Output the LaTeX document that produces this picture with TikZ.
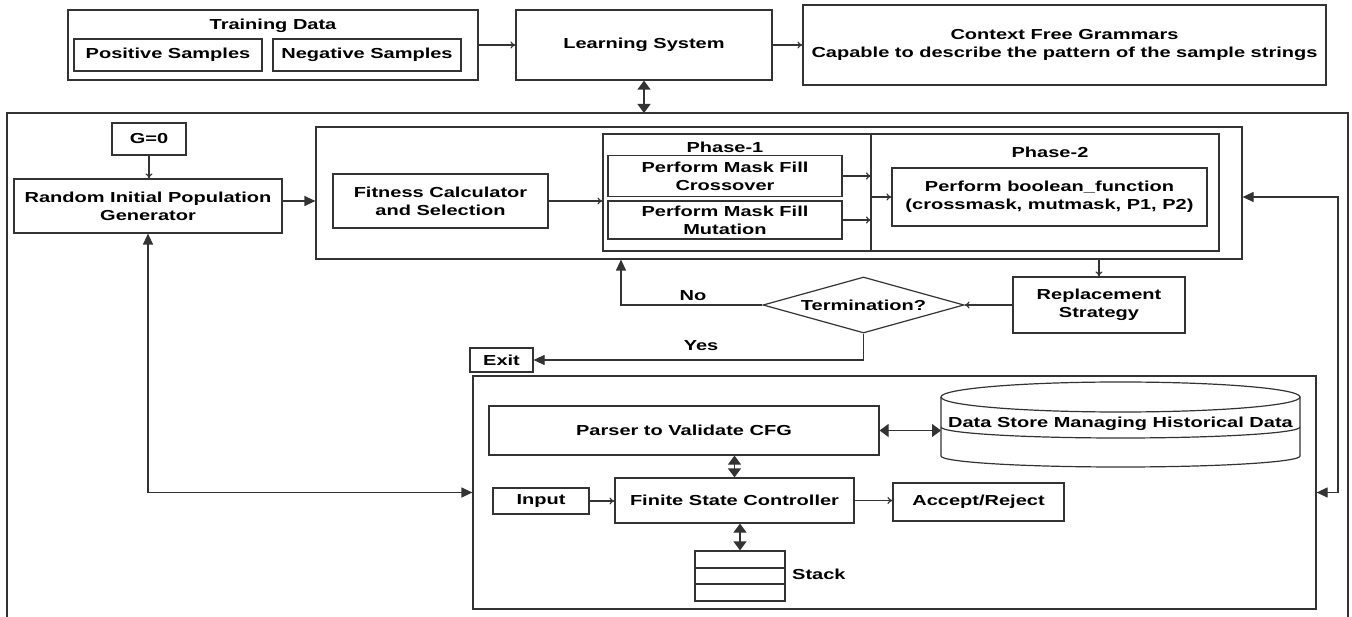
\documentclass[tikz,border=0pt]{standalone}
\usepackage{fontspec}
\setmainfont{Liberation Sans}[FakeStretch=1.38]
\usetikzlibrary{arrows.meta,shapes.geometric}
\definecolor{ln}{HTML}{333333}
\begin{document}
\begin{tikzpicture}[x=1pt,y=-1pt,
  every node/.style={font=\bfseries\fontsize{14.5}{18}\selectfont, text=black, inner sep=0pt, align=center},
  box/.style={draw=ln, line width=1.2pt, rectangle},
  con/.style={draw=ln, line width=1.2pt},
  big/.style={-{Triangle[length=11pt,width=10pt]}},
  bigb/.style={{Triangle[length=11pt,width=10pt]}-{Triangle[length=11pt,width=10pt]}},
  thin/.style={-{To[length=5pt,width=7pt]}},
  dbl/.style={{Triangle[length=9pt,width=13pt]}-{Triangle[length=9pt,width=13pt]}}
]
\useasboundingbox (0,0) rectangle (1352,617);

% top row
\node[box,minimum width=410pt,minimum height=70pt] (train) at (273,45) {};
\node (traint) at (273,26) {Training Data};
\node[box,minimum width=188pt,minimum height=32pt] (pos) at (168,55) {Positive Samples};
\node[box,minimum width=188pt,minimum height=32pt] (neg) at (367,55) {Negative Samples};
\node[box,minimum width=256pt,minimum height=70pt] (learn) at (644,45) {Learning System};
\node[box,minimum width=523pt,minimum height=80pt] (cfg) at (1064.5,45) {Context Free Grammars\\Capable to describe the pattern of the sample strings};
\draw[con,thin] (train.east) -- (learn.west);
\draw[con,thin] (learn.east) -- (cfg.west |- learn.east);

% outer frame
\draw[con] (7,617) -- (7,113) -- (1348,113) -- (1348,617);
\coordinate (otop) at (644,113);
\draw[con,dbl] (learn.south) -- (otop);

% GA part
\node[box,minimum width=74pt,minimum height=32pt] (g0) at (149,139) {G=0};
\node[box,minimum width=268pt,minimum height=54pt] (ripg) at (148,206) {Random Initial Population\\Generator};
\draw[con,thin] (g0.south) -- (ripg.north -| g0.south);
\node[box,minimum width=926pt,minimum height=132pt] (ga) at (779,193) {};
\node[box,minimum width=215pt,minimum height=54pt] (fit) at (440.5,201) {Fitness Calculator\\and Selection};
\draw[con,big] (ripg.east |- fit.west) -- (ga.west |- fit.west);
\node[box,minimum width=616pt,minimum height=117pt] (phase) at (911,192.5) {};
\draw[con] (871,134) -- (871,251);
\draw[con,thin] (fit.east) -- (phase.west |- fit.east);
\node (p1) at (725,147) {Phase-1};
\node[box,minimum width=234pt,minimum height=41pt] (cross) at (725,176) {Perform Mask Fill\\Crossover};
\node[box,minimum width=234pt,minimum height=38pt] (mut) at (725,220) {Perform Mask Fill\\Mutation};
\coordinate (div) at (871,197);
\draw[con,thin] (cross.east) -- (cross.east -| div);
\draw[con,thin] (mut.east) -- (mut.east -| div);
\node (p2) at (1050,152) {Phase-2};
\node[box,minimum width=315pt,minimum height=58pt] (bool) at (1049.5,197) {Perform boolean\_function\\(crossmask, mutmask, P1, P2)};
\draw[con,thin] (div) -- (bool.west);

% replacement / termination
\node[box,minimum width=172pt,minimum height=56pt] (repl) at (1099,305) {Replacement\\Strategy};
\draw[con,thin] (ga.south -| repl.north) -- (repl.north);
\node[draw=ln,line width=1.2pt,diamond,aspect=3.59,minimum width=201pt,minimum height=56pt] (term) at (863.5,305) {Termination?};
\draw[con,thin] (repl.west) -- (term.east);
\coordinate (nocorner) at (621,305);
\draw[con,big] (term.west) -- (nocorner) -- (nocorner |- ga.south);
\node (no) at (693,296) {No};
\node[box,minimum width=63pt,minimum height=24pt] (exit) at (501.5,360) {Exit};
\draw[con,big] (term.south) -- (term.south |- exit.east) -- (exit.east);
\node (yes) at (701,346) {Yes};

% bottom (parser) part
\node[box,minimum width=843pt,minimum height=233pt] (bot) at (894.5,492.5) {};
\node[box,minimum width=390pt,minimum height=49pt] (parser) at (684,430.5) {Parser to Validate CFG};
\draw[con] (1120.5,397) ellipse [x radius=179.5, y radius=15];
\draw[con] (941,397) -- (941,456) arc[start angle=180,end angle=0,x radius=179.5,y radius=11] -- (1300,397);
\draw[con] (941,427) arc[start angle=180,end angle=0,x radius=179.5,y radius=11];
\node (ds) at (1120.5,424) {Data Store Managing Historical Data};
\coordinate (cylw) at (941,430.5);
\draw[con,dbl] (parser.east) -- (cylw);
\node[box,minimum width=239pt,minimum height=45pt] (fsc) at (734.5,500.5) {Finite State Controller};
\draw[con,dbl] (fsc.north |- parser.south) -- (fsc.north);
\node[box,minimum width=96pt,minimum height=26pt] (input) at (541,501) {Input};
\draw[con,thin] (input.east) -- (fsc.west |- input.east);
\node[box,minimum width=171pt,minimum height=38pt] (acc) at (978.5,502) {Accept/Reject};
\draw[con,thin] (fsc.east) -- (acc.west |- fsc.east);
\node[box,minimum width=90pt,minimum height=50pt] (stack) at (740,576) {};
\draw[con] (695,568) -- (785,568);
\draw[con] (695,584) -- (785,584);
\draw[con,dbl] (stack.north) -- (stack.north |- fsc.south);
\node[anchor=west] (stl) at (792,574) {Stack};

% loops
\draw[con,bigb] (ripg.south) -- (ripg.south |- bot.west) -- (bot.west);
\coordinate (rtop) at (1338,197);
\coordinate (rbot) at (1338,492.5);
\draw[con,bigb] (ga.east |- rtop) -- (rtop) -- (rbot) -- (bot.east |- rbot);
\end{tikzpicture}
\end{document}
